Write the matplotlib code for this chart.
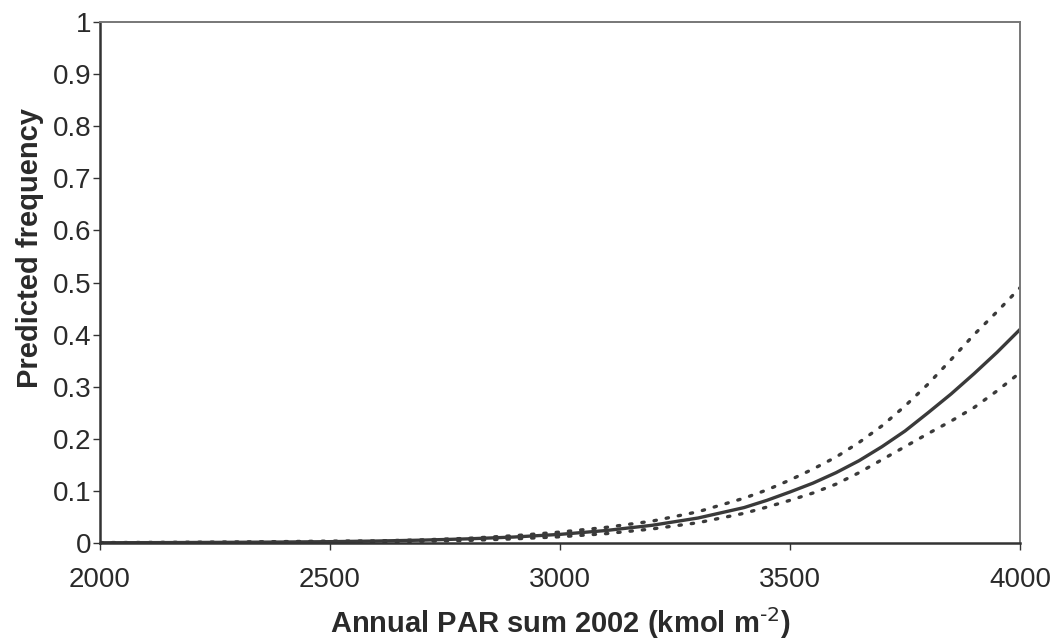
import matplotlib
matplotlib.use("Agg")
import matplotlib.pyplot as plt
from matplotlib.ticker import FuncFormatter

plt.rcParams["font.family"] = ["Liberation Sans", "DejaVu Sans"]

# Values
par = [2000, 2100, 2200, 2300, 2400, 2500, 2600, 2700, 2800, 2900, 3000,
       3100, 3200, 3300, 3400, 3450, 3500, 3550, 3600, 3650, 3700, 3750,
       3800, 3850, 3900, 3950, 4000]
predicted = [0.0005, 0.0007, 0.001, 0.0014, 0.0019, 0.0026, 0.0038, 0.0055,
             0.008, 0.0115, 0.0166, 0.024, 0.034, 0.048, 0.068, 0.082, 0.098,
             0.115, 0.135, 0.158, 0.185, 0.215, 0.25, 0.286, 0.325, 0.366,
             0.41]
upper_ci = [0.0008, 0.0011, 0.0015, 0.002, 0.0027, 0.0036, 0.004, 0.006,
            0.009, 0.014, 0.021, 0.03, 0.042, 0.06, 0.086, 0.102, 0.121,
            0.142, 0.165, 0.193, 0.225, 0.263, 0.305, 0.352, 0.40, 0.444,
            0.49]
lower_ci = [0.0002, 0.0003, 0.0005, 0.0008, 0.0011, 0.0016, 0.0024, 0.0035,
            0.005, 0.008, 0.012, 0.018, 0.027, 0.039, 0.057, 0.069, 0.082,
            0.096, 0.113, 0.135, 0.16, 0.185, 0.21, 0.234, 0.26, 0.292,
            0.327]

fig = plt.figure(figsize=(10.64, 6.43), dpi=100)
ax = fig.add_axes([0.094, 0.1555, 0.8647, 0.8103])

line_col = "#3a3a3a"
ax.plot(par, predicted, color=line_col, lw=2.4, solid_capstyle="round",
        solid_joinstyle="round")
ax.plot(par, upper_ci, color=line_col, lw=2.4, linestyle=(0, (0.7, 3.0)),
        dash_capstyle="round")
ax.plot(par, lower_ci, color=line_col, lw=2.4, linestyle=(0, (0.7, 3.0)),
        dash_capstyle="round")

ax.set_xlim(2000, 4000)
ax.set_ylim(0, 1)
ax.set_xticks([2000, 2500, 3000, 3500, 4000])
ax.set_yticks([i / 10 for i in range(11)])
ax.yaxis.set_major_formatter(FuncFormatter(lambda v, p: "%g" % round(v, 1)))

ax.tick_params(direction="out", length=5, width=1, colors="#333333",
               labelsize=20, labelcolor="#2a2a2a")
ax.tick_params(axis="x", pad=12)
ax.tick_params(axis="y", pad=1)

for side in ["left", "bottom"]:
    ax.spines[side].set_color("#333333")
    ax.spines[side].set_linewidth(1.8)
for side in ["top", "right"]:
    ax.spines[side].set_color("#777777")
    ax.spines[side].set_linewidth(1.4)

ax.set_xlabel("Annual PAR sum 2002 (kmol m$^{\\text{-2}}$)",
              fontsize=21, fontweight="bold", color="#2a2a2a", labelpad=9)
ax.set_ylabel("Predicted frequency", fontsize=21, fontweight="bold",
              color="#2a2a2a")
ax.yaxis.set_label_coords(-0.061, 0.566)

fig.savefig("out.png", dpi=100, facecolor="white")
